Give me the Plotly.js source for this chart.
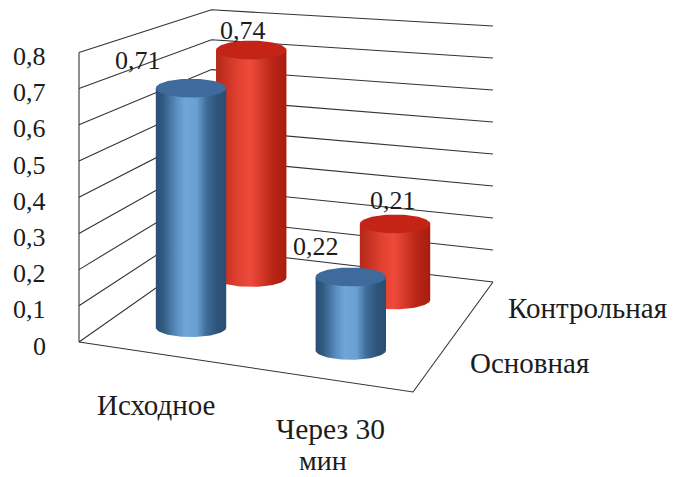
<!DOCTYPE html>
<html>
<head>
<meta charset="utf-8">
<script src="https://cdn.plot.ly/plotly-3.0.1.min.js"></script>
<style>html,body{margin:0;padding:0;background:#fff}</style>
</head>
<body>
<div id="chart" style="width:681px;height:477px"></div>
<script>
// ---- data ----
const categories = ['Исходное', 'Через 30 мин'];
const seriesNames = ['Основная', 'Контрольная'];
const valuesMain = [0.71, 0.22];
const valuesControl = [0.74, 0.21];
const tickValues = [0, 0.1, 0.2, 0.3, 0.4, 0.5, 0.6, 0.7, 0.8];

// ---- projection of the 3D box on to the page ----
const floorFrontLeft = [79, 342], floorFrontRight = [413, 392];
const floorBackLeft = [211.5, 249], floorBackRight = [493, 282];
const unitLeft = 362, unitBackLeft = 299, unitBackRight = 320;
// floor position of each bar [series][category], fraction along width / depth
const catPos = [[0.238, 0.738], [0.233, 0.736]];
const serPos = [[0.271, 0.27], [0.785, 0.748]];
const barUnit = [[337.3, 334], [307.4, 362]];
const rx = 35.2, ry = 9.4;
const lineColor = '#333333';
const fontFamily = '"Liberation Serif", serif';
const fontSize = 26, labelFontSize = 29;
const fontColor = '#1c1c1c';

function lerp(a, b, t) { return a + (b - a) * t; }
function floorPoint(u, v) {
  const fx = lerp(floorFrontLeft[0], floorFrontRight[0], u), fy = lerp(floorFrontLeft[1], floorFrontRight[1], u);
  const bx = lerp(floorBackLeft[0], floorBackRight[0], u), by = lerp(floorBackLeft[1], floorBackRight[1], u);
  return [lerp(fx, bx, v), lerp(fy, by, v)];
}

const traces = [];
function line(xs, ys) {
  traces.push({type: 'scatter', mode: 'lines', x: xs, y: ys, hoverinfo: 'skip',
    line: {color: lineColor, width: 1.1}});
}
// walls
tickValues.forEach(t => {
  line([floorFrontLeft[0], floorBackLeft[0], floorBackRight[0]],
       [floorFrontLeft[1] - t * unitLeft, floorBackLeft[1] - t * unitBackLeft, floorBackRight[1] - t * unitBackRight]);
});
const topTick = tickValues[tickValues.length - 1];
line([floorFrontLeft[0], floorFrontLeft[0]], [floorFrontLeft[1], floorFrontLeft[1] - topTick * unitLeft]);
line([floorFrontLeft[0], floorFrontRight[0], floorBackRight[0]], [floorFrontLeft[1], floorFrontRight[1], floorBackRight[1]]);

// cylinders
const blueSide = [[0, '#2a4f76'], [0.1, '#32597f'], [0.3, '#5b90c2'], [0.42, '#70a6d9'], [0.58, '#6a9fd1'], [0.72, '#3f6c9a'], [0.88, '#2d5378'], [1, '#2b4f73']];
const redSide = [[0, '#b3291a'], [0.12, '#c53122'], [0.3, '#e0402f'], [0.48, '#ef4a3c'], [0.62, '#d83c2c'], [0.8, '#b92617'], [1, '#a81d10']];
const blueTop = '#3f6a9c', redTop = '#c42415';
const STEPS = 48;

function cylinder(u, v, value, unit, sideScale, topColor) {
  const [cx, by] = floorPoint(u, v);
  const ty = by - value * unit;
  const sx = [cx - rx], sy = [ty];
  sx.push(cx + rx); sy.push(ty);
  for (let i = 0; i <= STEPS; i++) {
    const a = Math.PI * i / STEPS;
    sx.push(cx + rx * Math.cos(a)); sy.push(by + ry * Math.sin(a));
  }
  sx.push(cx - rx); sy.push(ty);
  traces.push({type: 'scatter', mode: 'lines', x: sx, y: sy, hoverinfo: 'skip', line: {width: 0},
    fill: 'toself', fillgradient: {type: 'horizontal', colorscale: sideScale, start: cx - rx, stop: cx + rx}});
  const ex = [], ey = [];
  for (let i = 0; i <= STEPS * 2; i++) {
    const a = Math.PI * i / STEPS;
    ex.push(cx + rx * Math.cos(a)); ey.push(ty + ry * Math.sin(a));
  }
  traces.push({type: 'scatter', mode: 'lines', x: ex, y: ey, hoverinfo: 'skip', line: {width: 0},
    fill: 'toself', fillcolor: topColor});
  return [cx, ty];
}
const tops = [[], []];
[[1, valuesControl, redSide, redTop], [0, valuesMain, blueSide, blueTop]].forEach(([s, vals, side, topC]) => {
  vals.forEach((val, c) => {
    tops[s][c] = cylinder(catPos[s][c], serPos[s][c], val, barUnit[s][c], side, topC);
  });
});

// text
function fmt(v) { return v === 0 ? '0' : String(v).replace('.', ','); }
const ann = [];
function text(x, y, t, anchor, size) {
  ann.push({x: x, y: y, text: t, showarrow: false, xanchor: anchor || 'center', yanchor: 'middle',
    align: 'center', borderpad: 0, borderwidth: 0,
    font: {family: fontFamily, size: size || fontSize, color: fontColor}});
}
tickValues.forEach(t => text(46, floorFrontLeft[1] - t * unitLeft + 4, fmt(t), 'right'));
const labelOffset = [[[-53, -28], [-35, -30]], [[-8, -20], [-2, -23]]];
[valuesMain, valuesControl].forEach((vals, s) => vals.forEach((val, c) => {
  text(tops[s][c][0] + labelOffset[s][c][0], tops[s][c][1] + labelOffset[s][c][1], fmt(val));
}));
text(156, 405, categories[0], 'center', labelFontSize);
const secondCat = categories[1].split(' мин');
text(330, 428.5, secondCat[0], 'center', 29.5);
text(323, 460.5, 'мин', 'center', 28);
text(529.5, 363, seriesNames[0], 'center', labelFontSize);
text(587.5, 308, seriesNames[1], 'center', labelFontSize);

const layout = {
  width: 681, height: 477, margin: {l: 0, r: 0, t: 0, b: 0},
  paper_bgcolor: '#fff', plot_bgcolor: '#fff', showlegend: false,
  xaxis: {range: [0, 681], visible: false, fixedrange: true},
  yaxis: {range: [477, 0], visible: false, fixedrange: true},
  annotations: ann
};
Plotly.newPlot('chart', traces, layout, {displayModeBar: false, staticPlot: true});
</script>
</body>
</html>
